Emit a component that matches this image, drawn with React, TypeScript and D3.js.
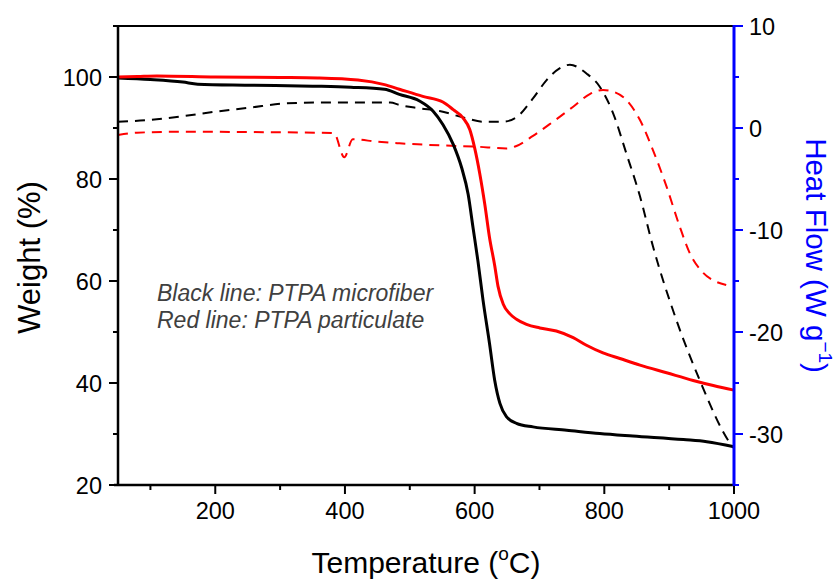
import React from "react";
import * as d3 from "d3";

const blackTgaT = [50, 100, 150, 173, 250, 350, 409, 461, 484, 515, 536, 551, 567, 580, 590, 597.5, 605, 613, 623, 631, 639, 649, 664.5, 690, 742, 793, 844, 922, 958, 1000];
const blackTgaW = [99.8, 99.5, 99.0, 98.6, 98.4, 98.2, 98.0, 97.6, 96.6, 95.3, 93.3, 90.7, 86.8, 82.2, 77, 70.5, 64, 56.2, 47.7, 40.5, 36, 33.4, 32.1, 31.4, 30.75, 30.1, 29.6, 28.9, 28.5, 27.5];

const redTgaT = [50, 80, 110, 200, 300, 358, 420, 461, 484, 520, 551, 567, 582, 592.5, 600, 608, 615.6, 623, 631, 636, 644, 654, 664.5, 680, 700.5, 726, 752, 772.5, 798, 824, 855, 896, 937, 968, 1000];
const redTgaW = [100, 100.1, 100.2, 100, 99.9, 99.8, 99.4, 98.5, 97.6, 96.2, 95.1, 93.6, 92, 89.7, 86.1, 81, 75.1, 68.5, 63, 59, 55.5, 53.6, 52.5, 51.5, 50.8, 50.2, 48.9, 47.4, 45.9, 44.8, 43.5, 42, 40.5, 39.5, 38.6];

const blackDscT = [50, 100, 152, 200, 254, 306, 360, 409, 470, 484, 515, 546, 587, 613, 644, 664.5, 690, 711, 731, 747, 772.5, 793, 813.6, 834, 855, 875, 911, 947, 994, 1000];
const blackDscH = [0.62, 0.8, 1.18, 1.6, 2.0, 2.4, 2.5, 2.5, 2.5, 2.25, 1.93, 1.67, 0.95, 0.62, 0.62, 1.05, 2.9, 4.7, 5.85, 6.2, 5.35, 4.05, 1.44, -2.5, -6.7, -11.6, -18.8, -24.7, -30.9, -31.4];

const redDscT = [50, 79, 152, 250, 358, 383, 399, 412, 450, 484, 512, 546, 603, 649, 664.5, 690, 721, 752, 777.6, 798, 813.6, 834, 855, 875, 896, 916.5, 932, 952.5, 970, 988];
const redDscH = [-0.69, -0.46, -0.36, -0.4, -0.46, -0.5, -2.87, -1.1, -1.35, -1.5, -1.6, -1.7, -1.83, -2.0, -1.76, -0.78, 0.62, 2.09, 3.33, 3.73, 3.56, 2.75, 0.78, -2.16, -5.75, -9.7, -12.3, -14.2, -15.0, -15.4];

const xMajor = [200, 400, 600, 800, 1000];
const xMinor = [100, 300, 500, 700, 900];
const yLMajor = [20, 40, 60, 80, 100];
const yLMinor = [30, 50, 70, 90, 110];
const yRMajor = [10, 0, -10, -20, -30];
const yRMinor = [5, -5, -15, -25, -35];

const W = 839, H = 583;
const L = 118, R = 734, T = 26, B = 485;
const FONT = "Arial, 'Liberation Sans', Helvetica, sans-serif";

export default function App() {
  const x = d3.scaleLinear().domain([50, 1000]).range([L, R]);
  const yL = d3.scaleLinear().domain([20, 110]).range([B, T]);
  const yR = d3.scaleLinear().domain([-35, 10]).range([B, T]);

  const mk = (ts: number[], vs: number[], ys: d3.ScaleLinear<number, number>) =>
    d3.line<number>().x((_, i) => x(ts[i])).y((v) => ys(v)).curve(d3.curveMonotoneX)(vs) || "";

  const MAJ = 9, MIN = 5;

  return (
    <svg width={W} height={H} style={{ position: "absolute", left: 0, top: 0, background: "#fff" }} fontFamily={FONT}>
      <rect x={0} y={0} width={W} height={H} fill="#fff" />
      {/* curves */}
      <path d={mk(blackDscT, blackDscH, yR)} fill="none" stroke="#000" strokeWidth={2} strokeDasharray="10,7" />
      <path d={mk(redDscT, redDscH, yR)} fill="none" stroke="#ff0000" strokeWidth={2} strokeDasharray="10,7" />
      <path d={mk(blackTgaT, blackTgaW, yL)} fill="none" stroke="#000" strokeWidth={3} />
      <path d={mk(redTgaT, redTgaW, yL)} fill="none" stroke="#ff0000" strokeWidth={3} />

      {/* frame */}
      <line x1={L} x2={R} y1={T} y2={T} stroke="#000" strokeWidth={2} />
      <line x1={L - 4} x2={R} y1={B} y2={B} stroke="#000" strokeWidth={2.5} />
      <line x1={L} x2={L} y1={T} y2={B} stroke="#000" strokeWidth={2.5} />

      {/* bottom axis ticks */}
      {xMajor.map((v) => (
        <g key={"xm" + v}>
          <line x1={x(v)} x2={x(v)} y1={B} y2={B + MAJ} stroke="#000" strokeWidth={2} />
          <text x={x(v)} y={519} textAnchor="middle" fontSize={23.5} fill="#000">{v}</text>
        </g>
      ))}
      {xMinor.map((v) => (
        <line key={"xn" + v} x1={x(v)} x2={x(v)} y1={B} y2={B + MIN} stroke="#000" strokeWidth={2} />
      ))}

      {/* left axis ticks */}
      {yLMajor.map((v) => (
        <g key={"lm" + v}>
          <line x1={L - MAJ} x2={L} y1={yL(v)} y2={yL(v)} stroke="#000" strokeWidth={2} />
          <text x={102} y={yL(v) + 8.5} textAnchor="end" fontSize={23.5} fill="#000">{v}</text>
        </g>
      ))}
      {yLMinor.map((v) => (
        <line key={"ln" + v} x1={L - MIN} x2={L} y1={yL(v)} y2={yL(v)} stroke="#000" strokeWidth={2} />
      ))}

      {/* right axis */}
      <line x1={R} x2={R} y1={T - 1} y2={B + 1} stroke="#0000ff" strokeWidth={3} />
      {yRMajor.map((v) => (
        <g key={"rm" + v}>
          <line x1={R} x2={R + MAJ} y1={yR(v)} y2={yR(v)} stroke="#0000ff" strokeWidth={2} />
          <text x={749} y={yR(v) + 8.5} textAnchor="start" fontSize={23.5} fill="#000">{v}</text>
        </g>
      ))}
      {yRMinor.map((v) => (
        <line key={"rn" + v} x1={R} x2={R + MIN} y1={yR(v)} y2={yR(v)} stroke="#0000ff" strokeWidth={2} />
      ))}

      {/* axis titles */}
      <text x={(L + R) / 2} y={573} textAnchor="middle" fontSize={30} fill="#000">
        Temperature (<tspan dy={-13} fontSize={19}>o</tspan><tspan dy={13}>C)</tspan>
      </text>
      <text transform={`translate(40, ${(T + B) / 2 + 2}) rotate(-90)`} textAnchor="middle" fontSize={31} fill="#000">
        Weight (%)
      </text>
      <text transform={`translate(806, ${(T + B) / 2}) rotate(90)`} textAnchor="middle" fontSize={29.5} fill="#0000ff">
        Heat Flow (W g<tspan dy={-13} fontSize={19}>−1</tspan><tspan dy={13}>)</tspan>
      </text>

      {/* annotation */}
      <text x={157} y={301} fontSize={23} fontStyle="italic" fill="#404040">Black line: PTPA microfiber</text>
      <text x={157} y={328} fontSize={23} fontStyle="italic" fill="#404040">Red line: PTPA particulate</text>
    </svg>
  );
}
